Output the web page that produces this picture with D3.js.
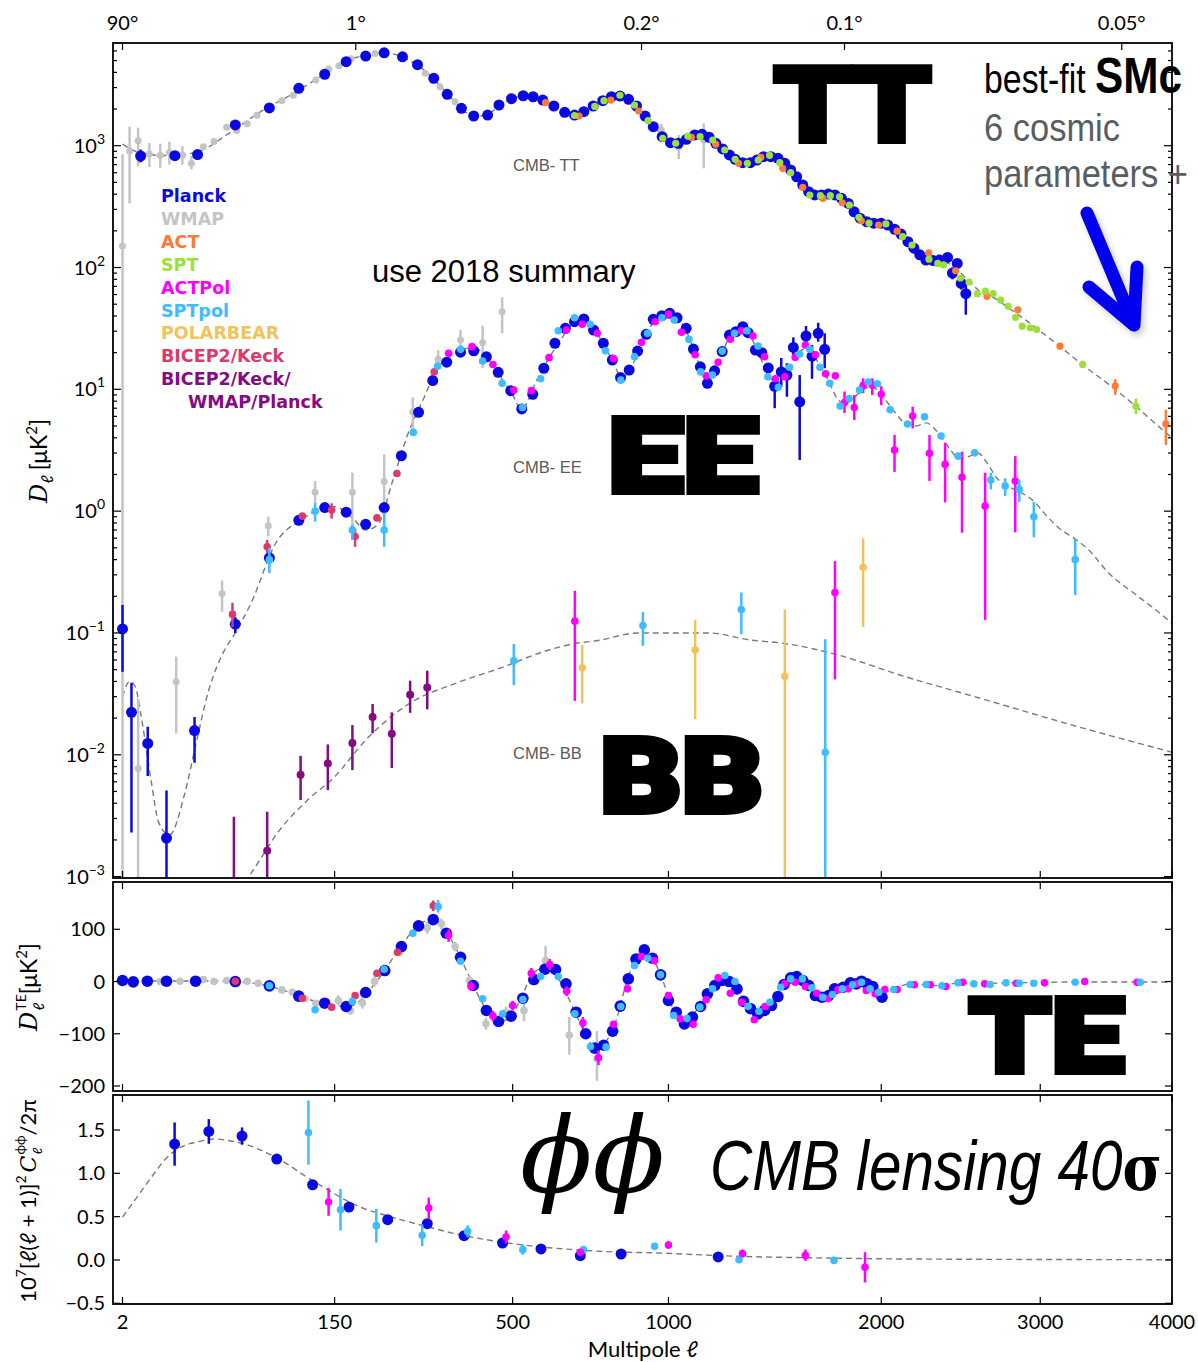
<!DOCTYPE html>
<html>
<head>
<meta charset="utf-8">
<script src="https://cdn.jsdelivr.net/npm/d3@7"></script>
<style>
  body { margin: 0; background: #fff; }
  svg text { font-family: Lato, "DejaVu Sans", sans-serif; }
</style>
</head>
<body>
<div id="chart"></div>
<script>
// ---- data: [ell, value] or [ell, value, low, high] ----
var ttTheory = [[2,1030],[4,900],[7,850],[10,830],[15,830],[20,850],[30,960],[40,1180],[50,1420],[70,1950],[90,2420],[120,3300],[150,4400],[180,5300],[200,5550],[225,5800],[245,5600],[270,5000],[300,4100],[330,3100],[360,2330],[400,1780],[425,1760],[450,1930],[490,2350],[530,2560],[560,2500],[600,2220],[640,1900],[680,1790],[720,2000],[770,2400],[810,2560],[840,2480],[880,2130],[920,1680],[960,1300],[1000,1080],[1040,1045],[1080,1150],[1120,1240],[1150,1200],[1190,1050],[1230,900],[1270,780],[1320,725],[1370,770],[1420,820],[1470,790],[1520,660],[1570,520],[1620,415],[1680,393],[1740,395],[1790,365],[1850,290],[1900,245],[1960,230],[2010,228],[2070,208],[2130,180],[2200,140],[2260,116],[2320,112],[2380,110],[2450,96],[2520,78],[2600,63],[2700,55],[2800,45],[2900,37],[3000,30],[3150,22],[3300,16],[3500,11],[3700,7.4],[3850,5.4],[4000,4.0]];
var ttWmap = [[2,150,1e-5,850],[3,905,337,1432],[4.5,1100,681,1405],[7,855,668,1052],[10,835,660,1040],[13,880,700,1080],[18,835,700,990],[22,717,640,820],[28,980],[34,1085],[42,1415],[49,1330],[57,1515],[65,1775],[88,2340],[100,2600],[126,3460],[142,4260],[156,4540],[173,5180],[210,5720],[300,3925],[330,3050],[362,2300],[973,1345,1113,1507],[1040,975,778,1224],[1140,1113,652,1527]];
var ttPlanck = [[5,823,730,930],[15,828],[25,845],[48,1480],[76,2040],[106,2960],[137,3860],[166,4890],[195,5440],[225,5790],[257,5370],[285,4620],[317,3575],[345,2640],[376,2028],[404,1753],[437,1786],[465,2158],[497,2432],[528,2571],[555,2523],[582,2370],[614,2118],[646,1880],[676,1786],[705,1903],[735,2118],[766,2340],[795,2523],[824,2557],[854,2404],[882,2118],[913,1753],[943,1432],[976,1186],[1008,1059],[1038,1047],[1070,1129],[1103,1225],[1133,1241],[1162,1173],[1190,1047],[1219,940],[1248,840],[1273,773],[1306,725],[1340,725],[1370,763],[1400,812],[1434,812],[1468,788],[1500,717],[1528,632],[1557,556],[1587,475],[1616,419],[1646,394],[1681,394],[1716,401],[1750,394],[1784,370],[1820,336],[1851,287],[1883,254],[1919,238],[1958,231],[1999,231],[2037,223],[2076,206],[2112,188],[2152,163],[2187,144],[2222,127],[2258,115],[2302,114],[2340,115],[2390,121],[2420,90,80,100],[2450,108],[2475,74,66,82],[2504,61,41,72]];
var ttAct = [[590,2255],[690,1753],[793,2370],[890,1925],[1090,1170],[1190,1027],[1288,717],[1388,803],[1490,652],[1587,456],[1688,370],[1788,340],[1890,242],[1985,223],[2090,199],[2275,132],[2440,94],[2640,58],[2845,45],[3140,22.6],[3550,10.7,9.0,12.1],[3950,5.2,3.5,6.8]];
var ttSpt = [[676,1770],[740,2100],[770,2340],[824,2595],[875,2158],[924,1604],[978,1150],[1028,1047],[1075,1200],[1125,1186],[1177,1113],[1228,922],[1273,773],[1327,717],[1376,763],[1428,834],[1476,725],[1528,600],[1622,394],[1675,389],[1726,389],[1774,381],[1826,326],[1877,258],[1932,231],[2026,228],[2121,179],[2176,153],[2277,117],[2330,108],[2365,105],[2470,82],[2525,76],[2577,61],[2630,64],[2680,61],[2730,54],[2780,48],[2830,39],[2875,33],[2930,32],[2975,31],[3305,16],[3710,7.3,6.3,8.4]];

var eeTheory = [[2,0.030],[3,0.040],[4,0.036],[5,0.022],[7.5,0.006],[9.5,0.0028],[13,0.0022],[19,0.0048],[24.5,0.013],[31,0.034],[40,0.07],[47,0.096],[60,0.175],[82,0.545],[108,0.845],[150,1.09],[176,0.87],[195,0.70],[214,0.77],[240,1.8],[265,4.08],[300,9.0],[322,14.4],[350,18.5],[385,21.7],[410,21.5],[434,18.5],[470,12.5],[500,9.0],[523,6.9],[545,8.5],[560,11],[600,18],[640,27],[680,36],[710,37],[740,31],[770,23],[800,17],[830,12.5],[860,14.5],[890,21],[920,29],[950,37],[980,40.5],[1010,41],[1040,37],[1070,30],[1100,21],[1130,14.5],[1160,12],[1190,14.5],[1220,20.5],[1250,27],[1280,30],[1310,31],[1340,27.5],[1370,21],[1400,16],[1440,12],[1480,11.5],[1520,14.5],[1560,19.5],[1600,21.5],[1640,19],[1680,15],[1720,11.5],[1760,8.5],[1800,7.6],[1850,8.5],[1900,10],[1950,10.5],[2000,9],[2060,7],[2120,5.5],[2200,5.0],[2260,5.3],[2320,4.6],[2400,3.3],[2460,2.7],[2520,2.8],[2580,3.0],[2640,2.5],[2700,1.9],[2800,1.55],[2900,1.35],[2960,1.19],[3050,0.9],[3150,0.70],[3240,0.6],[3350,0.48],[3500,0.31],[3700,0.21],[3850,0.16],[4000,0.12]];
var eePlanck = [[2,0.108,0.048,0.17],[3.3,0.0223,0.0023,0.039],[6.6,0.0124,0.0067,0.017],[12,0.00207,0.0009,0.0051],[23.5,0.0158,0.0086,0.0204],[48,0.118,0.1,0.135],[76,0.414],[106,0.84],[137,1.07],[166,0.98],[195,0.78],[225,1.07],[255,2.85],[287,6.47],[315,11.8],[344,16.7],[374,20.2],[404,20.7],[434,18.5],[463,13.8],[495,9.75],[524,6.9],[554,9.1],[585,14.9],[617,23.9],[648,31.7],[676,35.9],[705,37.8],[736,30.7],[768,23.9],[798,17.4],[826,12.5],[856,14.4],[886,20.6],[917,28.3],[943,37.6],[975,40.2],[1005,42.1],[1033,38.7],[1069,31.7],[1098,21.4],[1126,15.3],[1155,11.2],[1185,14.2],[1217,20.4],[1248,27.9],[1276,29.7],[1307,32.7],[1330,29.2],[1363,21.0],[1392,20.0],[1422,15.0],[1452,10.6,7.0,12.7],[1483,13.9,10.5,18.1],[1510,13.1,8.7,16.4],[1541,22.1,18.3,26.7],[1572,7.9,2.63,13.1],[1603,27.4,22.4,33.1],[1633,18.7,12.2,23.1],[1664,28.8,24.6,35.2],[1697,21.3,14.9,28.8]];
var eeWmap = [[4.5,0.0077,1e-5,0.029],[15.5,0.0398,0.015,0.064],[39,0.211,0.149,0.27],[75,0.76,0.62,0.9],[125,1.43,1.17,1.77],[175,1.43,0.70,2.07],[225,1.75,0.72,2.92],[276,6.5,4.6,8.6],[326,17.7,14.9,21],[374,25.4,19.8,30.7],[425,24.1,14.9,33.3],[473,43.4,28.8,56.9]];
var eeBicep = [[46,0.142,0.112,0.177],[74,0.51,0.45,0.58],[110,0.91],[146,1.02,0.87,1.16],[179,0.62,0.51,0.72],[213,0.88],[247,2.04],[318,13.9]];
var eeActpol = [[348,19.8],[400,22.4],[450,16.0],[503,9.86],[550,9.75],[600,18.2],[651,30.7],[700,34.2],[748,28.8],[802,17.9],[900,24.3],[950,35.9],[1000,41.3],[1050,29.4],[1105,19.2],[1150,12.9],[1200,16.7],[1252,25.8],[1300,30.3],[1352,27.4],[1405,18.5],[1455,12.2],[1500,12.7],[1550,18.3],[1600,23.1],[1650,19.2],[1702,13.4],[1752,12.9],[1800,7.8,6.4,9.6],[1852,7.1,5.6,9.0],[1900,10.8,9.3,12.3],[1950,10.8,9.0,12.3],[2000,9.1,7.4,10.6],[2075,3.18,2.1,4.22],[2180,6.04,4.78,7.2],[2280,2.99,1.77,4.22],[2375,2.42,1.18,3.65],[2480,1.90,0.665,3.08],[2628,1.10,0.128,2.07],[2828,1.77,0.67,2.83]];
var eeSptpol = [[76,0.40,0.31,0.50],[125,1.0,0.82,1.17],[175,0.70,0.58,0.77],[225,0.70,0.51,0.97],[277,4.43],[325,15.5],[374,21.3],[425,17.1],[473,11.2],[526,7.1],[576,12.2],[627,30.3],[676,38.7],[725,34.2],[775,20.7],[827,11.9],[875,18.5],[922,28.8],[975,38.7],[1022,37],[1080,25.7],[1127,13.9],[1176,13.1],[1217,20.6],[1270,28.8],[1325,30.3],[1375,22.7],[1420,12.7],[1469,10.4],[1523,15.2],[1572,19.5],[1622,21.3],[1673,15.2],[1723,11.2],[1777,7.3],[1825,8.4],[1880,9.86],[1928,11.5],[1978,11.1],[2050,6.8],[2150,5.2],[2250,5.96],[2350,4.14],[2455,2.83],[2560,3.01],[2665,1.80,1.51,2.07],[2760,1.61,1.33,1.86],[2855,1.51,1.19,1.82],[2955,0.9,0.61,1.19],[3250,0.40,0.205,0.59]];

var bbTheory = [[55,0.0009],[61,0.0011],[86,0.00242],[116,0.00425],[150,0.0066],[195,0.0132],[270,0.0264],[363,0.0386],[467,0.0513],[584,0.0702],[677,0.082],[745,0.0863],[890,0.1],[1160,0.1],[1340,0.0875],[1500,0.082],[1765,0.066],[2110,0.045],[2600,0.029],[3270,0.017],[4000,0.0105]];
var bbBkp = [[47,0.0005,1e-5,0.0031],[74,0.00163,1e-5,0.0034],[108,0.00686,0.00425,0.0098],[141,0.0085,0.00513,0.01216],[175,0.0125,0.00748,0.01753],[206,0.0204,0.015,0.0261],[238,0.0149,0.0078,0.0223],[271,0.0311,0.0221,0.0406],[304,0.0357,0.0236,0.049]];
var bbSptpol = [[503,0.0592,0.0373,0.081],[905,0.115,0.0785,0.149],[1300,0.156,0.098,0.215],[1700,0.0105,1e-5,0.089]];
var bbActpol = [[677,0.125,0.0277,0.222],[1750,0.215,0.0416,0.389]];
var bbPolarbear = [[700,0.0518,0.0264,0.0796],[1105,0.0724,0.0196,0.128],[1500,0.044,1e-5,0.156],[1900,0.346,0.112,0.598]];

var teTheory = [[2,2],[10,1],[30,1],[50,-1],[70,-6],[90,-17],[110,-30],[130,-40],[150,-46],[170,-48],[185,-38],[200,-18],[220,12],[240,45],[260,76],[280,102],[300,116],[315,119],[330,110],[345,92],[360,70],[375,44],[390,16],[405,-10],[420,-35],[440,-60],[460,-74],[480,-74],[500,-62],[520,-35],[540,-4],[560,18],[580,25],[600,22],[620,12],[640,-8],[660,-35],[680,-62],[700,-88],[720,-112],[740,-125],[760,-126],[780,-112],[800,-92],[820,-58],[840,-15],[860,20],[880,45],[900,58],[920,57],[940,46],[960,25],[980,0],[1000,-30],[1020,-55],[1040,-70],[1060,-78],[1080,-75],[1100,-62],[1130,-42],[1160,-18],[1190,-3],[1220,2],[1250,-2],[1280,-14],[1310,-35],[1340,-52],[1370,-60],[1400,-56],[1430,-45],[1460,-28],[1490,-8],[1520,5],[1550,8],[1580,3],[1610,-8],[1640,-22],[1680,-30],[1720,-27],[1760,-15],[1800,-6],[1850,-2],[1900,-4],[1950,-12],[2000,-20],[2080,-14],[2150,-5],[2250,-6],[2350,-8],[2450,-3],[2550,-4],[2700,-3],[2900,-2],[3200,-1],[3600,-1],[4000,-1]];
var tePlanck = [[2,2],[3.6,-0.6],[6.5,0.6],[12,0.6],[24,0.6],[48,0],[76,-8.3],[106,-28],[137,-41.5],[166,-47.8],[195,-21],[226,21],[255,67],[287,106.5],[316,118.5],[343,92.4],[374,46.5],[403,-7.6],[434,-55.4],[464,-76.5],[496,-66.3],[527,-31.9],[557,3.8],[588,23.5],[619,23],[650,-4.4],[681,-58.7],[711,-100],[740,-127.5],[769,-122],[799,-95],[825,-47],[853,5],[880,43],[910,60.6],[940,44.6],[970,12.8],[1000,-36.3],[1030,-58.7],[1062,-81],[1094,-68],[1127,-47.8],[1155,-23.5],[1186,-7.6],[1216,2],[1247,0],[1281,-14],[1310,-38],[1341,-52],[1374,-62],[1405,-55.4],[1437,-46],[1467,-28.7],[1496,-5.7],[1528,7],[1557,9.6],[1587,2],[1617,-7.6],[1650,-26.8],[1683,-30],[1717,-26.8],[1748,-14],[1793,-10.9],[1831,-2.5],[1863,-4.4],[1891,0.6],[1921,-4.4],[1953,-9.6],[2004,-30]];
var teWmap = [[10,0],[17,0.6],[28,3.8],[34,0],[42,2],[57,0.6],[66,-3.2],[88,-16],[99,-20.5],[113,-33],[126,-41.5],[155,-36.3,-46,-26],[172,-55.4,-64,-46],[190,-40.7,-52,-30],[209,0,-10,10],[252,56],[304,102.7,92,114],[333,110,100,120],[362,67,58,76],[394,2,-8,12],[433,-81,-92,-70],[483,-58.7,-70,-48],[530,-55.4,-76,-36],[590,40,20,68],[660,-103,-140,-68],[747,-148,-190,-95]];
var teBicep = [[48,0.6],[110,-32],[146,-49],[179,-27],[213,16],[248,56],[316,145,135,155]];
var teActpol = [[348,88,76,100],[398,-9.6,-18,0],[450,-66,-76,-56],[500,-46,-55,-37],[550,16,6,26],[602,32.5,22,43],[652,-18.5,-28,-9],[702,-79,-90,-68],[752,-146,-160,-132],[802,-82],[850,-14],[900,47.8],[948,40],[1000,-26.8],[1045,-71.3],[1097,-82],[1150,-35],[1200,7],[1252,-22.4],[1302,-39.6],[1358,-73.2],[1408,-47.8],[1500,-4.4],[1550,-1.3],[1600,-9.6],[1657,-22.4],[1713,-33],[1766,-15.9],[1820,-14],[1867,-4.4],[1917,-17.2],[1966,-23.5],[2020,-15.3],[2090,-15.3],[2190,-6.3],[2285,-6.3],[2380,-9.6],[2485,-1.3],[2625,-4.4],[2835,-3.2],[3030,-2.5],[3320,0],[3720,-1.3]];
var teSptpol = [[76,-8],[125,-54],[175,-38],[225,23.5],[276,92.4],[326,143.4,132,156],[374,38.8],[425,-33],[474,-61.8],[527,-34.4],[576,9.6],[627,9.6],[677,-61.8],[726,-124.3],[777,-125.6],[827,-47.8],[875,30.6],[923,44.6],[970,12.8],[1020,-65],[1072,-71],[1124,-49],[1176,-14],[1228,11.5],[1272,0],[1330,-47.2],[1379,-56.8],[1430,-39.6],[1480,-10.9],[1528,5],[1585,5],[1632,-12],[1687,-30],[1737,-24.9],[1789,-14],[1843,-6.3],[1891,-1.3],[1938,-14],[1986,-20.5],[2070,-15.3],[2165,-5.7],[2260,-5.7],[2355,-8.3],[2455,-2.5],[2555,-4.4],[2660,-5.7],[2765,-2.5],[2855,-3.2],[2955,-3.2],[3250,-1.3],[3745,-1.3]];

var ppTheory = [[2,0.496],[4.4,0.734],[8,0.984],[12,1.176],[18,1.31],[26,1.368],[34,1.396],[44,1.376],[57,1.33],[74,1.234],[93,1.11],[115,0.957],[141,0.811],[164,0.696],[190,0.60],[224,0.522],[296,0.396],[372,0.292],[460,0.215],[560,0.157],[676,0.119],[757,0.1],[955,0.081],[1290,0.042],[1700,0.023],[2090,0.012],[4000,0.003]];
var ppPlanck = [[14.9,1.338,1.088,1.587],[31,1.483,1.341,1.626],[53,1.43,1.33,1.53],[83,1.165],[122,0.868],[170,0.611],[231,0.465],[304,0.419],[382,0.28],[474,0.196],[577,0.127],[694,0.05],[828,0.069],[1200,0.035]];
var ppSptpol = [[117,1.472,1.10,1.84],[158,0.58,0.34,0.82],[212,0.396,0.20,0.59],[294,0.284,0.16,0.41],[390,0.33,0.26,0.40],[527,0.119,0.06,0.18],[704,0.119],[948,0.157],[1290,0.003],[1745,-0.005]];
var ppActpol = [[142,0.669,0.51,0.83],[307,0.60,0.47,0.72],[483,0.265,0.19,0.34],[694,0.088],[1000,0.173,0.13,0.22],[1305,0.073,0.03,0.12],[1600,0.053,-0.01,0.12],[1910,-0.085,-0.26,0.09]];

var ellTicks = [2, 150, 500, 1000, 2000, 3000, 4000];
var degreeTicks = [2, 180, 900, 1800, 3600];
var degreeLabels = ["90\u00b0", "1\u00b0", "0.2\u00b0", "0.1\u00b0", "0.05\u00b0"];
var logTicks = [-3, -2, -1, 0, 1, 2, 3];
var teTicks = [100, 0, -100, -200];
var ppTicks = [1.5, 1.0, 0.5, 0.0, -0.5];
var legendNames = ["Planck", "WMAP", "ACT", "SPT", "ACTPol", "SPTpol", "POLARBEAR", "BICEP2/Keck", "BICEP2/Keck/", "WMAP/Planck"];

// ---- colours ----
var cPlanck = "#0a0ae0", cWmap = "#c4c4c4", cAct = "#ff7a35", cSpt = "#9be03a",
    cActpol = "#ff00ff", cSptpol = "#3dbdff", cPolar = "#f0c45a", cBicep = "#dc3a6c", cBkp = "#850a85";
var legendColors = [cPlanck, cWmap, cAct, cSpt, cActpol, cSptpol, cPolar, cBicep, cBkp, cBkp];

var width = 1198, height = 1362;
var left = 113, right = 1172;
var top1 = 43, bot1 = 878, top2 = 882, bot2 = 1091, top3 = 1095, bot3 = 1304;

var x = d3.scalePow().exponent(0.45).domain([1, 4000]).range([left, right]);
var yLog = d3.scaleLog().domain([1e-3, 1e3]).range([876.6, 145.7]);
var yTE = d3.scaleLinear().domain([-200, 100]).range([1086, 929.3]);
var yPP = d3.scaleLinear().domain([-0.5, 1.5]).range([1303.3, 1130]);

var svg = d3.select("#chart").append("svg")
    .attr("width", width)
    .attr("height", height);

svg.append("rect").attr("width", width).attr("height", height).style("fill", "#fff");

var defs = svg.append("defs");
[["clip1", top1, bot1], ["clip2", top2, bot2], ["clip3", top3, bot3]].forEach(function(c) {
    defs.append("clipPath").attr("id", c[0]).append("rect")
        .attr("x", left).attr("y", c[1]).attr("width", right - left).attr("height", c[2] - c[1]);
});
var blur = defs.append("filter").attr("id", "shadow").attr("x", "-20%").attr("y", "-20%").attr("width", "140%").attr("height", "140%");
blur.append("feGaussianBlur").attr("stdDeviation", 3);

var g1 = svg.append("g").attr("clip-path", "url(#clip1)");
var g2 = svg.append("g").attr("clip-path", "url(#clip2)");
var g3 = svg.append("g").attr("clip-path", "url(#clip3)");

function theory(g, data, y) {
    var line = d3.line()
        .x(function(d) { return x(d[0]); })
        .y(function(d) { return y(d[1]); })
        .curve(d3.curveMonotoneX);
    g.append("path")
        .attr("d", line(data))
        .style("fill", "none")
        .style("stroke", "#7a7a7a")
        .style("stroke-width", 1.4)
        .style("stroke-dasharray", "6,4");
}

function points(g, data, y, color, r, ew) {
    g.selectAll(null).data(data.filter(function(d) { return d.length > 2; }))
        .enter().append("line")
        .attr("x1", function(d) { return x(d[0]); })
        .attr("x2", function(d) { return x(d[0]); })
        .attr("y1", function(d) { return y(d[2]); })
        .attr("y2", function(d) { return y(d[3]); })
        .style("stroke", color)
        .style("stroke-width", ew);
    g.selectAll(null).data(data)
        .enter().append("circle")
        .attr("cx", function(d) { return x(d[0]); })
        .attr("cy", function(d) { return y(d[1]); })
        .attr("r", r)
        .style("fill", color);
}

// ---- top panel: TT, EE, BB ----
theory(g1, ttTheory, yLog);
theory(g1, eeTheory, yLog);
theory(g1, bbTheory, yLog);
points(g1, ttWmap, yLog, cWmap, 3.5, 2.5);
points(g1, eeWmap, yLog, cWmap, 3.5, 2.5);
points(g1, ttPlanck, yLog, cPlanck, 5.5, 2.5);
points(g1, eePlanck, yLog, cPlanck, 5.5, 2.5);
points(g1, eeBicep, yLog, cBicep, 3.8, 2.5);
points(g1, bbBkp, yLog, cBkp, 4, 2.5);
points(g1, ttAct, yLog, cAct, 3.6, 2.5);
points(g1, ttSpt, yLog, cSpt, 3.6, 2.5);
points(g1, eeActpol, yLog, cActpol, 3.8, 2.5);
points(g1, bbActpol, yLog, cActpol, 3.8, 2.5);
points(g1, eeSptpol, yLog, cSptpol, 3.8, 2.5);
points(g1, bbSptpol, yLog, cSptpol, 3.8, 2.5);
points(g1, bbPolarbear, yLog, cPolar, 3.8, 2.5);

// ---- TE panel ----
theory(g2, teTheory, yTE);
points(g2, teWmap, yTE, cWmap, 3.8, 2.5);
points(g2, tePlanck, yTE, cPlanck, 5.8, 2.5);
points(g2, teBicep, yTE, cBicep, 3.8, 2.5);
points(g2, teActpol, yTE, cActpol, 3.8, 2.5);
points(g2, teSptpol, yTE, cSptpol, 3.8, 2.5);

// ---- phi-phi panel ----
theory(g3, ppTheory, yPP);
points(g3, ppPlanck, yPP, cPlanck, 5.5, 2.5);
points(g3, ppSptpol, yPP, cSptpol, 3.8, 2.5);
points(g3, ppActpol, yPP, cActpol, 3.8, 2.5);

// ---- frames and ticks ----
function frame(y0, y1) {
    svg.append("rect")
        .attr("x", left).attr("y", y0)
        .attr("width", right - left).attr("height", y1 - y0)
        .style("fill", "none").style("stroke", "#000").style("stroke-width", 1.8);
}
function xTicks(vals, y0, y1, doTop, doBottom) {
    vals.forEach(function(v) {
        if (doTop) svg.append("line").attr("x1", x(v)).attr("x2", x(v)).attr("y1", y0).attr("y2", y0 + 7)
            .style("stroke", "#000").style("stroke-width", 1.2);
        if (doBottom) svg.append("line").attr("x1", x(v)).attr("x2", x(v)).attr("y1", y1).attr("y2", y1 - 7)
            .style("stroke", "#000").style("stroke-width", 1.2);
    });
}
function yTicks(y, vals, len) {
    vals.forEach(function(v) {
        svg.append("line").attr("x1", left).attr("x2", left + len).attr("y1", y(v)).attr("y2", y(v))
            .style("stroke", "#000").style("stroke-width", 1.2);
        svg.append("line").attr("x1", right).attr("x2", right - len).attr("y1", y(v)).attr("y2", y(v))
            .style("stroke", "#000").style("stroke-width", 1.2);
    });
}

frame(top1, bot1);
frame(top2, bot2);
frame(top3, bot3);

xTicks(degreeTicks, top1, bot1, true, false);
xTicks(ellTicks, top1, bot1, false, true);
xTicks(ellTicks, top2, bot2, true, true);
xTicks(ellTicks, top3, bot3, true, true);

var minorVals = [];
logTicks.forEach(function(e) {
    if (e < 3) for (var m = 2; m <= 9; m++) minorVals.push(m * Math.pow(10, e));
});
minorVals.push(2000, 3000, 4000, 5000, 6000);
yTicks(yLog, logTicks.map(function(e) { return Math.pow(10, e); }), 8);
yTicks(yLog, minorVals, 4);
yTicks(yTE, teTicks, 7);
yTicks(yPP, ppTicks, 7);

// ---- tick labels ----
var labelSize = "20px";
degreeTicks.forEach(function(v, i) {
    svg.append("text").text(degreeLabels[i])
        .attr("x", x(v)).attr("y", 30)
        .attr("text-anchor", "middle").style("font-size", labelSize);
});
ellTicks.forEach(function(v) {
    svg.append("text").text(v)
        .attr("x", x(v)).attr("y", 1329)
        .attr("text-anchor", "middle").style("font-size", labelSize);
});
logTicks.forEach(function(e) {
    var t = svg.append("text").attr("x", 105).attr("y", yLog(Math.pow(10, e)) + 7)
        .attr("text-anchor", "end").style("font-size", labelSize);
    t.append("tspan").text("10");
    t.append("tspan").attr("dy", -9).style("font-size", "14px").text(e < 0 ? "\u2212" + (-e) : e);
});
teTicks.forEach(function(v) {
    svg.append("text").text(v < 0 ? "\u2212" + (-v) : v)
        .attr("x", 105).attr("y", yTE(v) + 7)
        .attr("text-anchor", "end").style("font-size", labelSize);
});
ppTicks.forEach(function(v) {
    svg.append("text").text(v < 0 ? "\u2212" + (-v).toFixed(1) : v.toFixed(1))
        .attr("x", 105).attr("y", yPP(v) + 7)
        .attr("text-anchor", "end").style("font-size", labelSize);
});

svg.append("text").attr("x", 643).attr("y", 1357)
    .attr("text-anchor", "middle").style("font-size", "22px")
    .text("Multipole \u2113");

// ---- y axis titles, laid out piece by piece then centred ----
function richLabel(tx, ty, parts) {
    var g = svg.append("g").attr("transform", "translate(" + tx + "," + ty + ") rotate(-90)");
    var cx = 0, start = 0;
    parts.forEach(function(p) {
        var t = g.append("text").text(p.t)
            .attr("x", p.stack ? start : cx)
            .attr("y", p.dy || 0)
            .style("font-size", p.size + "px");
        if (p.italic) t.style("font-style", "italic");
        if (p.serif) t.style("font-family", "DejaVu Serif");
        var w = t.node().getComputedTextLength();
        if (p.stack) {
            cx = Math.max(cx, start + w);
        } else {
            start = cx;
            cx += w + (p.gap || 0);
        }
    });
    g.selectAll("text").attr("x", function() { return +d3.select(this).attr("x") - cx / 2; });
}

richLabel(47, 461, [
    {t: "D", size: 24, italic: true, serif: true},
    {t: "\u2113", size: 16, dy: 6, gap: 5},
    {t: "[\u03bcK", size: 23},
    {t: "2", size: 15, dy: -10},
    {t: "]", size: 23}
]);
richLabel(37, 987, [
    {t: "D", size: 24, italic: true, serif: true, gap: 1},
    {t: "TE", size: 14, dy: -11},
    {t: "\u2113", size: 15, dy: 7, stack: true},
    {t: " [\u03bcK", size: 23},
    {t: "2", size: 15, dy: -10},
    {t: "]", size: 23}
]);
richLabel(36, 1201, [
    {t: "10", size: 22},
    {t: "7", size: 14, dy: -10},
    {t: "[\u2113(\u2113 + 1)]", size: 22},
    {t: "2", size: 14, dy: -10, gap: 3},
    {t: "C", size: 22, italic: true, serif: true, gap: 1},
    {t: "\u03d5\u03d5", size: 13, dy: -11},
    {t: "\u2113", size: 13, dy: 6, stack: true},
    {t: "/2\u03c0", size: 22}
]);

// ---- legend ----
legendNames.forEach(function(name, i) {
    svg.append("text").text(name)
        .attr("x", i === 9 ? 188 : 161)
        .attr("y", 202 + i * 22.9)
        .style("font-family", "DejaVu Sans")
        .style("font-weight", "bold")
        .style("font-size", "17.5px")
        .style("fill", legendColors[i]);
});

// ---- annotations ----
[["CMB- TT", 171], ["CMB- EE", 473], ["CMB- BB", 759]].forEach(function(a) {
    svg.append("text").text(a[0]).attr("x", 513).attr("y", a[1])
        .style("font-size", "16.5px").style("fill", "#5a5a5a")
        .style("font-family", "Liberation Sans");
});

[["TT", 774, 141, 157], ["EE", 608, 492, 150], ["BB", 600, 812, 163], ["TE", 969, 1072, 155]].forEach(function(b) {
    svg.append("text").text(b[0])
        .attr("x", b[1]).attr("y", b[2])
        .attr("textLength", b[3]).attr("lengthAdjust", "spacingAndGlyphs")
        .style("font-family", "Roboto").style("font-weight", 900)
        .style("font-size", "104px")
        .style("stroke", "#000").style("stroke-width", 6).style("stroke-linejoin", "miter")
        .style("fill", "#000");
});

svg.append("text").text("use 2018 summary")
    .attr("x", 372).attr("y", 282)
    .style("font-family", "Liberation Sans").style("font-size", "31px").style("fill", "#000");

// squeeze a text horizontally so that it spans the given width
function squeezed(x0, y0, w) {
    var t = svg.append("text").attr("transform", "translate(" + x0 + "," + y0 + ")");
    t.fit = function() {
        var k = w / this.node().getComputedTextLength();
        this.attr("transform", "translate(" + x0 + "," + y0 + ") scale(" + k + ",1)");
        return this;
    };
    return t;
}

var bf = squeezed(984, 93, 198).style("font-family", "Liberation Sans").style("fill", "#000");
bf.append("tspan").style("font-size", "40px").text("best-fit ");
bf.append("tspan").style("font-size", "50px").style("font-weight", "bold").text("SMc");
bf.fit();

svg.append("text").text("6 cosmic")
    .attr("x", 984).attr("y", 141)
    .attr("textLength", 136).attr("lengthAdjust", "spacingAndGlyphs")
    .style("font-family", "Liberation Sans").style("font-size", "39px").style("fill", "#585d64");
svg.append("text").text("parameters +")
    .attr("x", 984).attr("y", 187)
    .attr("textLength", 204).attr("lengthAdjust", "spacingAndGlyphs")
    .style("font-family", "Liberation Sans").style("font-size", "39px").style("fill", "#585d64");

// blue arrow
var arrow = "M1087,213 L1134,325 M1089,287 L1134,325 L1137,267";
svg.append("path").attr("d", arrow).attr("transform", "translate(3,4)")
    .style("fill", "none").style("stroke", "#8a8a9a").style("stroke-width", 13)
    .style("stroke-linecap", "round").style("stroke-linejoin", "round")
    .style("opacity", 0.45).attr("filter", "url(#shadow)");
svg.append("path").attr("d", arrow)
    .style("fill", "none").style("stroke", "#0000ee").style("stroke-width", 13)
    .style("stroke-linecap", "round").style("stroke-linejoin", "round");

// phi phi lensing label
svg.append("text").text("\u03d5\u03d5")
    .attr("x", 520).attr("y", 1192)
    .attr("textLength", 145).attr("lengthAdjust", "spacingAndGlyphs")
    .style("font-family", "DejaVu Serif").style("font-style", "italic")
    .style("font-size", "104px").style("fill", "#000");

var lens = squeezed(710, 1190, 452).style("fill", "#000");
lens.append("tspan").style("font-family", "Liberation Sans").style("font-style", "italic")
    .style("font-size", "70px").text("CMB lensing 40");
lens.append("tspan").style("font-family", "DejaVu Serif").style("font-weight", "bold")
    .style("font-size", "64px").text("\u03c3");
lens.fit();
</script>
</body>
</html>
